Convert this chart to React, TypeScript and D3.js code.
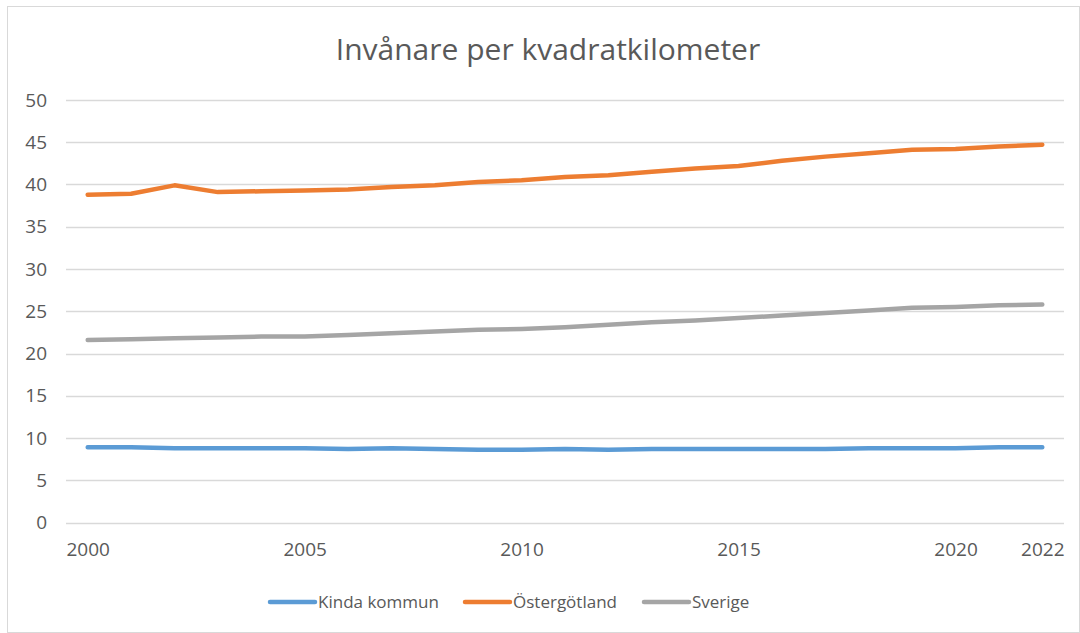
import { useRef, useEffect } from "react";
import * as d3 from "d3";

const years = d3.range(2000, 2023).map(String);
const kinda = [8.9, 8.9, 8.8, 8.8, 8.8, 8.8, 8.7, 8.8, 8.7, 8.6, 8.6, 8.7, 8.6, 8.7, 8.7, 8.7, 8.7, 8.7, 8.8, 8.8, 8.8, 8.9, 8.9];
const ostergotland = [38.8, 38.9, 39.9, 39.1, 39.2, 39.3, 39.4, 39.7, 39.9, 40.3, 40.5, 40.9, 41.1, 41.5, 41.9, 42.2, 42.8, 43.3, 43.7, 44.1, 44.2, 44.5, 44.7];
const sverige = [21.6, 21.7, 21.8, 21.9, 22.0, 22.0, 22.2, 22.4, 22.6, 22.8, 22.9, 23.1, 23.4, 23.7, 23.9, 24.2, 24.5, 24.8, 25.1, 25.4, 25.5, 25.7, 25.8];
const yTicks = [0, 5, 10, 15, 20, 25, 30, 35, 40, 45, 50];
const xTickLabels = ["2000", "2005", "2010", "2015", "2020", "2022"];

const series = [
    { name: "Kinda kommun", values: kinda, color: "#5B9BD5" },
    { name: "Östergötland", values: ostergotland, color: "#ED7D31" },
    { name: "Sverige", values: sverige, color: "#A5A5A5" },
];

export default function App() {
    const svgRef = useRef<SVGSVGElement>(null);

    useEffect(() => {
        const width = 1080;
        const height = 633;
        const font = "'Open Sans', sans-serif";
        const textColor = "#595959";

        const svg = d3.select(svgRef.current)
            .attr("width", width)
            .attr("height", height)
            .style("position", "absolute")
            .style("left", 0)
            .style("top", 0)
            .style("font-family", font);

        svg.selectAll("*").remove();

        // chart frame
        svg.append("rect")
            .attr("x", 7.5).attr("y", 6.5)
            .attr("width", width - 8).attr("height", height - 7)
            .attr("fill", "white")
            .attr("stroke", "#D9D9D9");

        const xScale = d3.scalePoint<string>()
            .domain(years)
            .range([66, 1064])
            .padding(0.5);

        const yScale = d3.scaleLinear()
            .domain([0, 50])
            .range([522.5, 100]);

        // gridlines
        svg.append("g")
            .selectAll("line")
            .data(yTicks)
            .join("line")
            .attr("x1", 66).attr("x2", 1064)
            .attr("y1", d => Math.round(yScale(d)) + 0.5)
            .attr("y2", d => Math.round(yScale(d)) + 0.5)
            .attr("stroke", "#D9D9D9")
            .attr("stroke-width", 1.5);

        // y labels
        const yAxis = d3.axisLeft(yScale).tickValues(yTicks).tickSize(0).tickPadding(0);
        svg.append("g")
            .attr("transform", "translate(47,0)")
            .call(yAxis)
            .call(g => g.select(".domain").remove())
            .call(g => g.selectAll("text")
                .attr("fill", textColor)
                .style("font-size", "19px")
                .style("font-family", font));

        // x labels
        const xAxis = d3.axisBottom(xScale).tickValues(xTickLabels).tickSize(0).tickPadding(0);
        svg.append("g")
            .attr("transform", "translate(0,542)")
            .call(xAxis)
            .call(g => g.select(".domain").remove())
            .call(g => g.selectAll("text")
                .attr("fill", textColor)
                .style("font-size", "19px")
                .style("font-family", font));

        // lines
        const line = d3.line<number>()
            .x((d, i) => xScale(years[i]) as number)
            .y(d => yScale(d));

        svg.append("g")
            .selectAll("path")
            .data(series)
            .join("path")
            .attr("d", d => line(d.values))
            .attr("fill", "none")
            .attr("stroke", d => d.color)
            .attr("stroke-width", 4.5)
            .attr("stroke-linecap", "round")
            .attr("stroke-linejoin", "round");

        // title
        svg.append("text")
            .attr("x", 548)
            .attr("y", 60)
            .attr("text-anchor", "middle")
            .attr("fill", textColor)
            .style("font-size", "30px")
            .text("Invånare per kvadratkilometer");

        // legend
        const legendX = [270, 465, 644];
        const legend = svg.append("g")
            .selectAll("g")
            .data(series)
            .join("g")
            .attr("transform", (d, i) => `translate(${legendX[i]},602)`);

        legend.append("line")
            .attr("x1", 0).attr("x2", 45)
            .attr("stroke", d => d.color)
            .attr("stroke-width", 4.5)
            .attr("stroke-linecap", "round");

        legend.append("text")
            .attr("x", 48)
            .attr("dy", "0.35em")
            .attr("fill", textColor)
            .style("font-size", "17px")
            .text(d => d.name);
    }, []);

    return <svg ref={svgRef}></svg>;
}
